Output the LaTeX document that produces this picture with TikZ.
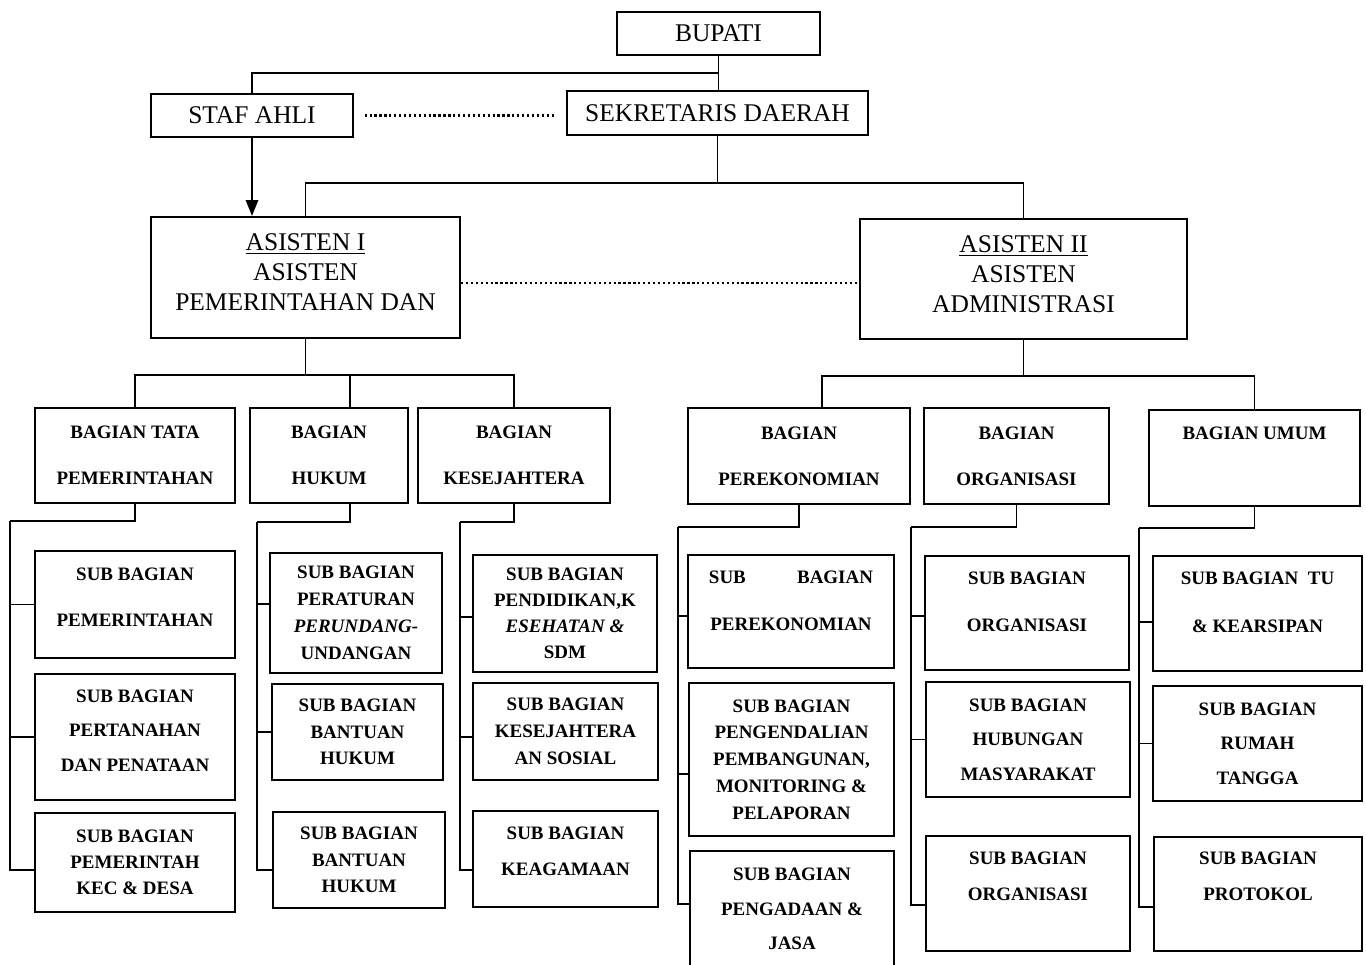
\documentclass[tikz,border=0pt]{standalone}
\usepackage{fontspec}
\setmainfont{Liberation Serif}
\usetikzlibrary{arrows.meta,calc}

\begin{document}
\begin{tikzpicture}[x=0.02cm,y=-0.02cm,
    spanbox/.style args={#1,#2,#3,#4}{minimum width={(#3-#1)*0.02cm},minimum height={(#4-#2)*0.02cm},at={({(#1+#3)/2},{(#2+#4)/2})}},
    box/.style={draw,line width=1.2pt,inner sep=0pt,align=center},
    head/.style={box,font=\fontsize{14.5}{17}\selectfont},
    unit/.style={box,font=\fontsize{10.8}{#1}\selectfont\bfseries},
    unit/.default=26.2,
    lift/.style={text depth=#1},
    link/.style={line width=1.1pt},
    dots/.style={line width=1.3pt,dash pattern=on 1.3pt off 1.5pt}]
    \useasboundingbox (0,0) rectangle (1366,964);
    \clip (0,0) rectangle (1366,964);

    % pimpinan
    \node[head,lift=-4pt,spanbox={617,12,820,55}] (bupati) {BUPATI};
    \node[head,lift=-3.5pt,spanbox={151,94,353,137}] (staf) {STAF AHLI};
    \node[head,lift=-2.5pt,spanbox={567,91,868,135}] (sekda) {SEKRETARIS DAERAH};
    \node[head,lift=6pt,spanbox={151,217,460,338}] (asis1) {\underline{ASISTEN I}\\ASISTEN\\PEMERINTAHAN DAN};
    \node[head,lift=6pt,spanbox={860,219,1187,339}] (asis2) {\underline{ASISTEN II}\\ASISTEN\\ADMINISTRASI};

    % bagian
    \node[unit,spanbox={35,408,235,503}] (tata) {BAGIAN TATA\\PEMERINTAHAN};
    \node[unit,spanbox={250,408,408,503}] (hukum) {BAGIAN\\HUKUM};
    \node[unit,spanbox={418,408,610,503}] (kesra) {BAGIAN\\KESEJAHTERA};
    \node[unit,spanbox={688,408,910,504}] (ekon) {BAGIAN\\PEREKONOMIAN};
    \node[unit,spanbox={924,408,1109,504}] (orga) {BAGIAN\\ORGANISASI};
    \node[unit,lift=28pt,spanbox={1149,410,1360,506}] (umum) {BAGIAN UMUM};

    % sub bagian
    \node[unit=26.1,lift=8.5pt,spanbox={35,551,235,658}] (tata1) {SUB BAGIAN\\PEMERINTAHAN};
    \node[unit=19.6,lift=7.4pt,spanbox={35,674,235,800}] (tata2) {SUB BAGIAN\\PERTANAHAN\\DAN PENATAAN};
    \node[unit=14.7,spanbox={35,813,235,912}] (tata3) {SUB BAGIAN\\PEMERINTAH\\KEC \& DESA};

    \node[unit=15.3,spanbox={270,553,442,673}] (hukum1) {SUB BAGIAN\\PERATURAN\\\textit{PERUNDANG-}\\UNDANGAN};
    \node[unit=15,spanbox={272,684,443,780}] (hukum2) {SUB BAGIAN\\BANTUAN\\HUKUM};
    \node[unit=15,spanbox={273,812,445,908}] (hukum3) {SUB BAGIAN\\BANTUAN\\HUKUM};

    \node[unit=14.7,spanbox={473,555,657,672}] (kesra1) {SUB BAGIAN\\PENDIDIKAN,K\\\textit{ESEHATAN \&}\\SDM};
    \node[unit=15.3,spanbox={473,683,658,780}] (kesra2) {SUB BAGIAN\\KESEJAHTERA\\AN SOSIAL};
    \node[unit=20.4,lift=9pt,spanbox={473,811,658,907}] (kesra3) {SUB BAGIAN\\KEAGAMAAN};

    \node[unit=26.6,lift=12.5pt,spanbox={688,555,894,668}] (ekon1) {SUB\hspace{2.7em}BAGIAN\\PEREKONOMIAN};
    \node[unit=15.2,spanbox={689,683,894,836}] (ekon2) {SUB BAGIAN\\PENGENDALIAN\\PEMBANGUNAN,\\MONITORING \&\\PELAPORAN};
    \node[unit=19.8,lift=3pt,spanbox={690,851,894,972}] (ekon3) {SUB BAGIAN\\PENGADAAN \&\\JASA};

    \node[unit=26.6,lift=13pt,spanbox={925,556,1129,670}] (orga1) {SUB BAGIAN\\ORGANISASI};
    \node[unit=19.6,spanbox={926,682,1130,797}] (orga2) {SUB BAGIAN\\HUBUNGAN\\MASYARAKAT};
    \node[unit=20.4,lift=19.8pt,spanbox={926,836,1130,951}] (orga3) {SUB BAGIAN\\ORGANISASI};

    \node[unit=27.2,lift=13pt,spanbox={1153,556,1362,671}] (umum1) {SUB BAGIAN\ \ TU\\\& KEARSIPAN};
    \node[unit=19.6,spanbox={1153,686,1362,801}] (umum2) {SUB BAGIAN\\RUMAH\\TANGGA};
    \node[unit=20.4,lift=20.4pt,spanbox={1154,837,1362,951}] (umum3) {SUB BAGIAN\\PROTOKOL};

    % garis komando atas
    \draw[link] (bupati.south) -- (bupati.south |- sekda.north);
    \draw[link] (staf.north) |- ($(bupati.south)!.5!(sekda.north)$);
    \draw[dots] ([xshift=6pt]staf.east) -- ([xshift=-6pt]staf.east -| sekda.west);
    \draw[link,-{Triangle[length=9pt,width=7pt]}] (staf.south) -- (staf.south |- asis1.north);

    \coordinate (sekbus) at (717.5,183);
    \draw[link] (sekda.south) -- (sekbus);
    \draw[link] (asis1.north) |- (sekbus) -| (asis2.north);
    \draw[dots] ([yshift=-3pt]asis1.east) -- ([yshift=-3pt]asis1.east -| asis2.west);

    % asisten ke bagian
    \coordinate (bus1) at (305.5,375);
    \draw[link] (asis1.south) -- (bus1);
    \draw[link] (tata.north) |- (bus1);
    \draw[link] ([xshift=12pt]hukum.north) |- (bus1);
    \draw[link] (kesra.north) |- (bus1);

    \coordinate (bus2) at (1023.5,376);
    \draw[link] (asis2.south) -- (bus2);
    \draw[link] ([xshift=13pt]ekon.north) |- (bus2);
    \draw[link] (umum.north) |- (bus2);

    % bagian ke sub bagian
    \coordinate (trunk1) at (10,521);
    \draw[link] (tata.south) |- (trunk1);
    \draw[link] (trunk1) |- (tata1.west);
    \draw[link] (trunk1) |- (tata2.west);
    \draw[link] (trunk1) |- ([yshift=-4pt]tata3.west);

    \coordinate (trunk2) at (257,522);
    \draw[link] ([xshift=12pt]hukum.south) |- (trunk2);
    \draw[link] (trunk2) |- ([yshift=5pt]hukum1.west);
    \draw[link] (trunk2) |- (hukum2.west);
    \draw[link] (trunk2) |- ([yshift=-5.7pt]hukum3.west);

    \coordinate (trunk3) at (460,522);
    \draw[link] (kesra.south) |- (trunk3);
    \draw[link] (trunk3) |- ([yshift=-2pt]kesra1.west);
    \draw[link] (trunk3) |- ([yshift=-3pt]kesra2.west);
    \draw[link] (trunk3) |- ([yshift=-6.2pt]kesra3.west);

    \coordinate (trunk4) at (678,527);
    \draw[link] (ekon.south) |- (trunk4);
    \draw[link] (trunk4) |- ([yshift=-2.5pt]ekon1.west);
    \draw[link] (trunk4) |- ([yshift=-8.2pt]ekon2.west);
    \draw[link] (trunk4) |- ([yshift=4.2pt]ekon3.west);

    \coordinate (trunk5) at (911,527);
    \draw[link] (orga.south) |- (trunk5);
    \draw[link] (trunk5) |- ([yshift=-1.7pt]orga1.west);
    \draw[link] (trunk5) |- (orga2.west);
    \draw[link] (trunk5) |- ([yshift=-6.5pt]orga3.west);

    \coordinate (trunk6) at (1139,528);
    \draw[link] (umum.south) |- (trunk6);
    \draw[link] (trunk6) |- ([yshift=-4.8pt]umum1.west);
    \draw[link] (trunk6) |- (umum2.west);
    \draw[link] (trunk6) |- ([yshift=-7.4pt]umum3.west);
\end{tikzpicture}
\end{document}
